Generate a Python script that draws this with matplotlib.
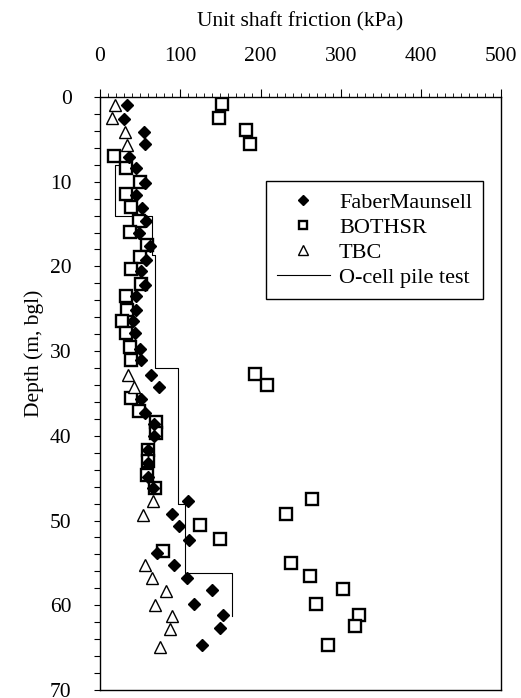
import numpy as np
import matplotlib
matplotlib.use('Agg')
import matplotlib.pyplot as plt
from matplotlib.ticker import MultipleLocator

plt.rcParams['font.family'] = ['Liberation Serif', 'DejaVu Serif']

# FaberMaunsell: friction (kPa), depth (m)
fm_friction = [34, 30, 55, 56, 36, 45, 56, 45, 52, 57, 48, 62, 57.5, 51, 56, 45, 45, 41, 44,
               50, 51, 63, 73, 51, 56, 67, 67, 60, 60, 60, 66, 110, 89.5, 98, 111.5, 71.5,
               92.5, 108, 139, 116.5, 153, 149, 127]
fm_depth = [0.95, 2.6, 4.1, 5.6, 7.1, 8.4, 10.1, 11.6, 13.1, 14.6, 16.1, 17.6, 19.2, 20.5,
            22.2, 23.5, 25.2, 26.5, 27.9, 29.7, 31.0, 32.8, 34.2, 35.6, 37.3, 38.6, 40.0,
            41.7, 43.2, 44.8, 46.2, 47.7, 49.2, 50.7, 52.3, 53.8, 55.2, 56.8, 58.2, 59.9,
            61.2, 62.7, 64.7]

# BOTHSR
bo_friction = [152, 148, 182, 187, 18, 32, 50, 32.5, 39, 49, 37, 58, 50, 39, 51, 32.5, 33,
               27, 32.5, 37, 39, 193, 207.5, 39, 49, 69.5, 70, 60, 60, 59, 69, 264, 232, 124,
               149, 79, 237.5, 261.5, 303, 269.5, 323, 318, 284]
bo_depth = [0.83, 2.5, 3.9, 5.5, 7.0, 8.4, 10.0, 11.5, 13.0, 14.6, 15.9, 17.5, 18.9, 20.3,
            22.1, 23.5, 25.1, 26.5, 27.9, 29.5, 31.0, 32.7, 34.0, 35.5, 37.1, 38.4, 39.7,
            41.7, 43.0, 44.6, 46.1, 47.5, 49.2, 50.5, 52.2, 53.6, 55.0, 56.6, 58.1, 59.8,
            61.2, 62.5, 64.7]

# TBC
tbc_friction = [19, 14.6, 31, 33, 35, 42.5, 66, 53, 56, 64.5, 82.5, 68, 89.5, 87.5, 75]
tbc_depth = [0.94, 2.5, 4.1, 5.7, 32.8, 34.2, 47.7, 49.3, 55.3, 56.8, 58.3, 60.0, 61.3,
             62.8, 64.9]

# O-cell pile test (stepped profile)
ocell_friction = [26, 19, 19, 65, 65, 69, 69, 97, 97, 106, 106, 165, 165]
ocell_depth = [8.0, 8.0, 14.1, 14.1, 18.7, 18.7, 32.0, 32.0, 48.0, 48.0, 56.2, 56.2, 61.3]

fig = plt.figure(figsize=(5.21, 6.98), dpi=100)
ax = fig.add_axes([0.192, 0.0115, 0.77, 0.8495])

ax.plot(ocell_friction, ocell_depth, '-', color='k', lw=0.8, label='O-cell pile test', zorder=2)
ax.plot(bo_friction, bo_depth, 's', ms=8, mfc='white', mec='k', mew=1.7, ls='none',
        label='BOTHSR', zorder=3)
ax.plot(tbc_friction, tbc_depth, '^', ms=8.5, mfc='white', mec='k', mew=1.0, ls='none',
        label='TBC', zorder=3)
ax.plot(fm_friction, fm_depth, 'D', ms=6.4, mfc='k', mec='k', ls='none',
        label='FaberMaunsell', zorder=4)

ax.set_xlim(0, 500)
ax.set_ylim(70, 0)

ax.xaxis.tick_top()
ax.xaxis.set_label_position('top')
ax.xaxis.set_major_locator(MultipleLocator(100))
ax.xaxis.set_minor_locator(MultipleLocator(10))
ax.yaxis.set_major_locator(MultipleLocator(10))
ax.yaxis.set_minor_locator(MultipleLocator(2))
ax.tick_params(axis='x', which='major', direction='out', length=6, width=0.8, labelsize=15.5, pad=16)
ax.tick_params(axis='x', which='minor', direction='out', length=3, width=0.6)
ax.tick_params(axis='y', which='both', direction='out', length=4.5, width=0.8, labelsize=15.5, pad=16)

ax.set_xlabel('Unit shaft friction (kPa)', fontsize=15.5, labelpad=15)
ax.set_ylabel('Depth (m, bgl)', fontsize=15.5)
ax.yaxis.set_label_coords(-0.14, 0.568)

for s in ax.spines.values():
    s.set_linewidth(1.0)

h, l = ax.get_legend_handles_labels()
order = [3, 1, 2, 0]
leg = ax.legend([h[i] for i in order], [l[i] for i in order], loc='upper right',
                bbox_to_anchor=(0.955, 0.858), borderaxespad=0, fontsize=16,
                fancybox=False, framealpha=1, edgecolor='k', handlelength=2.4,
                labelspacing=0.2, borderpad=0.5, handletextpad=0.4, markerscale=0.8)
leg.get_frame().set_linewidth(1.0)

fig.savefig('out.png', dpi=100)
